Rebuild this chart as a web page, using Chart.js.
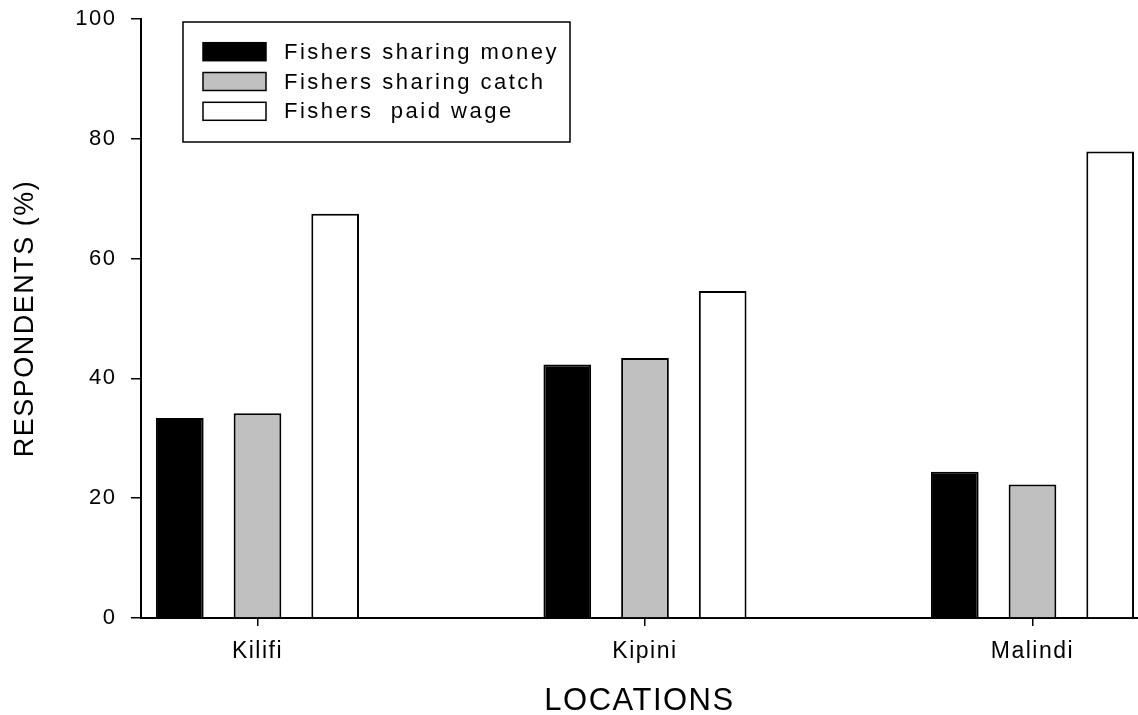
<!DOCTYPE html>
<html><head><meta charset="utf-8">
<script src="https://cdn.jsdelivr.net/npm/chart.js@4/dist/chart.umd.min.js"></script>
<style>html,body{margin:0;padding:0;background:#fff;overflow:hidden}canvas{display:block}</style>
</head><body>
<canvas id="c" width="1138" height="715"></canvas>
<script>
const categories = ['Kilifi', 'Kipini', 'Malindi'];
const sharingMoney = [33.4, 42.3, 24.4];
const sharingCatch = [34.2, 43.4, 22.3];
const paidWage = [67.5, 54.6, 77.9];
const seriesLabels = ['Fishers sharing money', 'Fishers sharing catch', 'Fishers  paid wage'];
const yTicks = [0, 20, 40, 60, 80, 100];
const xTitle = 'LOCATIONS';
const yTitle = 'RESPONDENTS (%)';

const FONT = "'Liberation Sans', Arial, Helvetica, sans-serif";
const toPoints = arr => arr.map((v, i) => ({ x: i, y: v }));

const spacingPlugin = {
  id: 'spacing',
  beforeUpdate(chart) { chart.ctx.letterSpacing = '1.5px'; },
  beforeDraw(chart) { chart.ctx.letterSpacing = '1.5px'; }
};

const boxLegend = {
  id: 'boxLegend',
  afterDraw(chart) {
    const ctx = chart.ctx;
    ctx.save();
    ctx.letterSpacing = '2.5px';
    ctx.lineWidth = 1.5;
    ctx.strokeStyle = '#000';
    ctx.strokeRect(183, 22, 387, 120);
    ctx.font = '22px ' + FONT;
    ctx.textBaseline = 'middle';
    ctx.textAlign = 'left';
    chart.data.datasets.forEach((ds, i) => {
      const cy = 51.7 + i * 29.8;
      ctx.fillStyle = ds.backgroundColor;
      ctx.fillRect(203, cy - 9, 63, 18);
      ctx.lineWidth = 1.5;
      ctx.strokeRect(203, cy - 9, 63, 18);
      ctx.fillStyle = '#000';
      ctx.fillText(ds.label, 284, cy + 1);
    });
    ctx.restore();
  }
};

const colors = ['#000000', '#c0c0c0', '#ffffff'];
const seriesData = [sharingMoney, sharingCatch, paidWage];

new Chart(document.getElementById('c'), {
  type: 'bar',
  data: {
    datasets: seriesData.map((arr, i) => ({
      label: seriesLabels[i],
      data: toPoints(arr),
      backgroundColor: colors[i],
      borderColor: '#000000',
      borderWidth: 2
    }))
  },
  options: {
    responsive: false,
    animation: false,
    devicePixelRatio: 1,
    layout: { padding: { top: 19, left: 0, right: 0, bottom: 0 } },
    categoryPercentage: 0.6015,
    barPercentage: 0.614,
    plugins: { legend: { display: false }, tooltip: { enabled: false } },
    scales: {
      x: {
        type: 'linear',
        offset: false,
        min: -0.3006,
        max: 2.2723,
        afterBuildTicks(s) { s.ticks = categories.map((_, i) => ({ value: i })); },
        afterFit(s) { s.height = 97; s.paddingLeft = 0; s.paddingRight = 0; },
        grid: { display: true, drawOnChartArea: false, drawTicks: true, tickLength: 8, color: '#000', lineWidth: 1.5, offset: false },
        border: { display: true, color: '#000', width: 2 },
        ticks: { callback: (v) => categories[v], font: { size: 23, family: FONT }, color: '#000', padding: 12, maxRotation: 0, autoSkip: false },
        title: { display: true, text: xTitle, font: { size: 31, family: FONT, lineHeight: 1 }, color: '#000', padding: { top: 0, bottom: -2 } }
      },
      y: {
        min: 0,
        max: 100,
        afterBuildTicks(s) { s.ticks = yTicks.map(v => ({ value: v })); },
        afterFit(s) { s.width = 141; s.paddingTop = 0; s.paddingBottom = 0; },
        grid: { drawOnChartArea: false, drawTicks: true, tickLength: 10, color: '#000', lineWidth: 1.5 },
        border: { display: true, color: '#000', width: 2 },
        ticks: { font: { size: 22, family: FONT }, color: '#000', padding: 14.5 },
        title: { display: true, text: yTitle, font: { size: 27, family: FONT, lineHeight: 1 }, color: '#000', padding: { top: 12.5, bottom: 0 } }
      }
    }
  },
  plugins: [spacingPlugin, boxLegend]
});
</script>
</body></html>
